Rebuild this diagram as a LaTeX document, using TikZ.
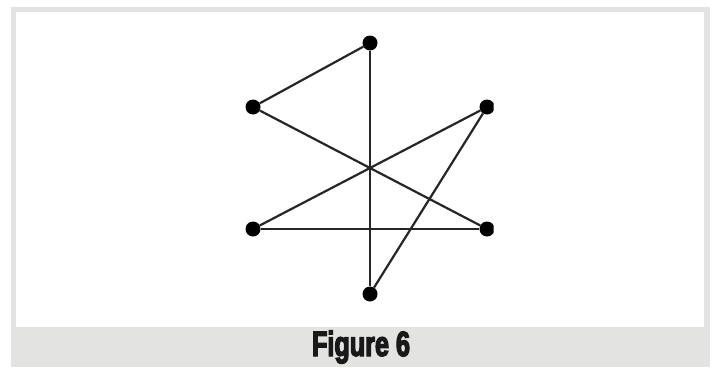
\documentclass[tikz,border=0pt]{standalone}
\usepackage{fontspec}
\newfontfamily\capfont[FakeStretch=0.84,FakeBold=4]{Liberation Sans Bold}
\definecolor{framegray}{RGB}{227,227,225}

\begin{document}
\begin{tikzpicture}[x=1pt,y=-1pt,
  dot/.style={circle,fill=black,inner sep=0pt,minimum size=15pt},
  link/.style={black!85,line width=2.2pt}]
\useasboundingbox (0,0) rectangle (719,367);
% frame and caption band
\fill[framegray] (11,7) rectangle (710,367);
\fill[white] (16,12) rectangle (704,327);
\node[font=\capfont\fontsize{30}{30}\selectfont,anchor=base,text=black!90,inner sep=0pt] (caption) at (361,356) {\scalebox{1}[1.17]{Figure 6}};
% graph
\begin{scope}
\clip (16,12) rectangle (493.5,327);
\node[dot] (top) at (370,43) {};
\node[dot] (lu) at (253,107) {};
\node[dot] (ru) at (487,107) {};
\node[dot] (ll) at (253,229) {};
\node[dot] (rl) at (487,229) {};
\node[dot] (bot) at (370,294) {};
\draw[link] (top) -- (lu);
\draw[link] (top) -- (bot);
\draw[link] (lu) -- (rl);
\draw[link] (ru) -- (ll);
\draw[link] (ru) -- (bot);
\draw[link] (ll) -- (rl);
\end{scope}
\end{tikzpicture}
\end{document}
